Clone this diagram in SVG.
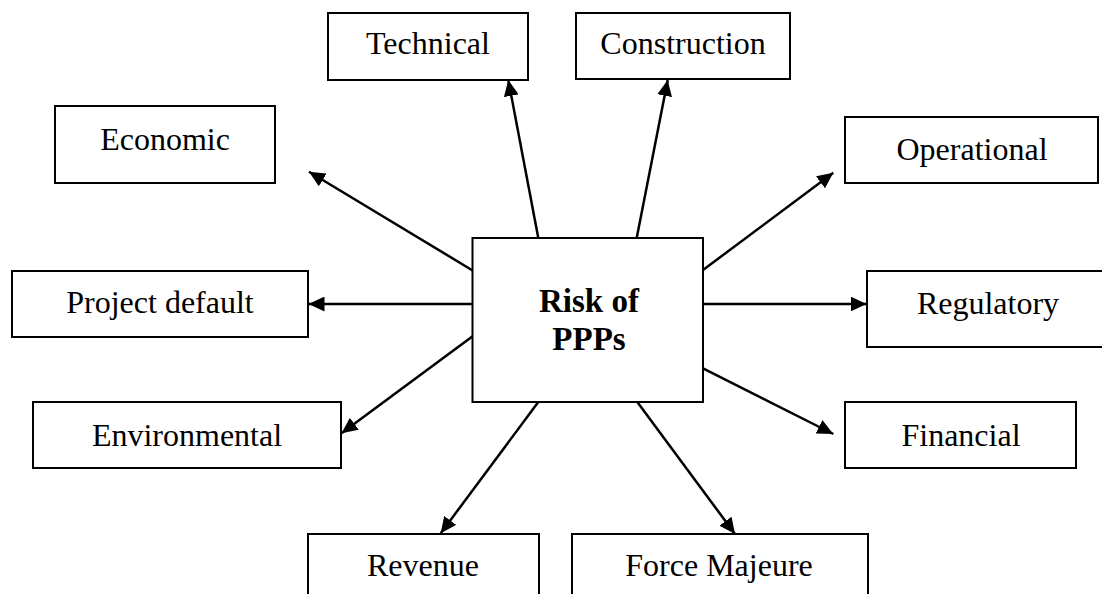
<svg xmlns="http://www.w3.org/2000/svg" width="1102" height="594" viewBox="0 0 1102 594">
  <style>
    .box { fill: #ffffff; stroke: #000000; stroke-width: 2; }
    .label { font-family: "Liberation Serif", "Times New Roman", serif; font-size: 32px; fill: #000000; text-anchor: middle; }
    .core { font-family: "Liberation Serif", "Times New Roman", serif; font-size: 33px; font-weight: bold; fill: #000000; text-anchor: middle; }
    .link { stroke: #000000; stroke-width: 2.5; fill: none; marker-end: url(#head); }
  </style>
  <defs>
    <marker id="head" markerUnits="userSpaceOnUse" markerWidth="17" markerHeight="15" refX="16" refY="7.5" orient="auto">
      <path d="M0,0 L16,7.5 L0,15 Z" fill="#000000"/>
    </marker>
  </defs>

  <rect width="1102" height="594" fill="#ffffff"/>

  <!-- connectors from the central node -->
  <g id="connectors">
    <line class="link" x1="473" y1="270.7" x2="309" y2="171.7"/>
    <line class="link" x1="538.3" y1="238" x2="508.3" y2="80"/>
    <line class="link" x1="636.7" y1="238" x2="667.7" y2="80"/>
    <line class="link" x1="703" y1="270" x2="833.3" y2="172.7"/>
    <line class="link" x1="703" y1="304" x2="866.5" y2="304"/>
    <line class="link" x1="703" y1="368.3" x2="833.3" y2="434"/>
    <line class="link" x1="637.3" y1="402" x2="735" y2="534"/>
    <line class="link" x1="538.3" y1="402" x2="440.7" y2="533.3"/>
    <line class="link" x1="473" y1="336" x2="341.5" y2="433.3"/>
    <line class="link" x1="473" y1="304" x2="308.5" y2="304"/>
  </g>

  <g id="risk-of-ppps">
    <rect class="box" x="472.5" y="238" width="230.5" height="164"/>
    <text class="core" x="589" y="312">Risk of</text>
    <text class="core" x="589" y="350">PPPs</text>
  </g>

  <g id="technical">
    <rect class="box" x="328" y="13" width="200" height="67"/>
    <text class="label" x="428" y="54">Technical</text>
  </g>

  <g id="construction">
    <rect class="box" x="576" y="13" width="214" height="66"/>
    <text class="label" x="683" y="54">Construction</text>
  </g>

  <g id="economic">
    <rect class="box" x="55" y="106" width="220" height="77"/>
    <text class="label" x="165" y="150">Economic</text>
  </g>

  <g id="operational">
    <rect class="box" x="845" y="117" width="253" height="66"/>
    <text class="label" x="972" y="160">Operational</text>
  </g>

  <g id="project-default">
    <rect class="box" x="12" y="271" width="296" height="66"/>
    <text class="label" x="160" y="313">Project default</text>
  </g>

  <g id="regulatory">
    <rect class="box" x="867" y="271" width="240" height="76"/>
    <text class="label" x="988" y="314">Regulatory</text>
  </g>

  <g id="environmental">
    <rect class="box" x="33" y="402" width="308" height="66"/>
    <text class="label" x="187" y="446">Environmental</text>
  </g>

  <g id="financial">
    <rect class="box" x="845" y="402" width="231" height="66"/>
    <text class="label" x="961" y="446">Financial</text>
  </g>

  <g id="revenue">
    <rect class="box" x="308" y="534" width="231" height="80"/>
    <text class="label" x="423" y="576">Revenue</text>
  </g>

  <g id="force-majeure">
    <rect class="box" x="572" y="534" width="296" height="80"/>
    <text class="label" x="719" y="576">Force Majeure</text>
  </g>
</svg>
